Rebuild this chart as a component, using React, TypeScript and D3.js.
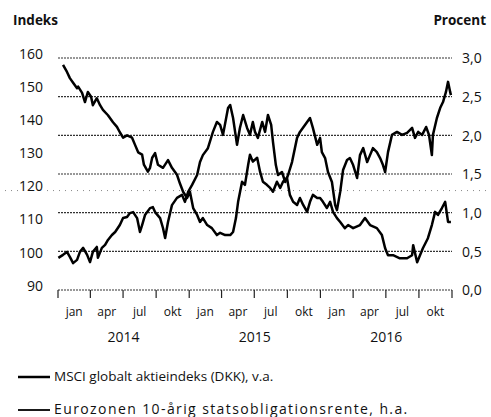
import * as d3 from 'd3'

// MSCI globalt aktieindeks (DKK), venstre akse
const msci: [string, number][] = [
  ['2014-01-02', 99.7], ['2014-01-15', 100.6], ['2014-01-26', 101.5], ['2014-02-03', 100.0],
  ['2014-02-12', 98.1], ['2014-02-23', 99.1], ['2014-03-03', 101.5], ['2014-03-12', 102.7],
  ['2014-03-23', 100.6], ['2014-03-31', 98.4], ['2014-04-08', 101.5], ['2014-04-19', 103.0],
  ['2014-04-22', 99.7], ['2014-05-03', 102.7], ['2014-05-12', 103.6], ['2014-05-20', 105.1],
  ['2014-05-31', 106.6], ['2014-06-09', 107.5], ['2014-06-22', 109.6], ['2014-07-01', 111.7],
  ['2014-07-12', 112.0], ['2014-07-20', 113.2], ['2014-07-29', 113.5], ['2014-08-09', 111.7],
  ['2014-08-17', 107.5], ['2014-08-23', 109.6], ['2014-08-31', 112.6], ['2014-09-14', 114.7],
  ['2014-09-22', 115.0], ['2014-09-28', 113.5], ['2014-10-12', 111.7], ['2014-10-20', 108.7],
  ['2014-10-26', 105.7], ['2014-11-03', 110.5], ['2014-11-14', 115.6], ['2014-11-28', 117.8],
  ['2014-12-12', 118.7], ['2014-12-20', 116.6], ['2014-12-29', 119.6], ['2015-01-09', 121.7],
  ['2015-01-23', 124.7], ['2015-01-31', 128.6], ['2015-02-08', 130.7], ['2015-02-22', 132.8],
  ['2015-03-08', 137.7], ['2015-03-19', 140.7], ['2015-03-28', 139.8], ['2015-04-05', 136.8],
  ['2015-04-19', 144.9], ['2015-04-25', 145.8], ['2015-05-03', 141.9], ['2015-05-14', 133.8],
  ['2015-05-22', 138.9], ['2015-05-31', 142.8], ['2015-06-11', 138.9], ['2015-06-19', 136.8],
  ['2015-06-27', 140.7], ['2015-07-03', 137.7], ['2015-07-11', 135.9], ['2015-07-23', 140.7],
  ['2015-07-31', 137.7], ['2015-08-08', 142.8], ['2015-08-17', 139.8], ['2015-08-22', 134.7],
  ['2015-08-30', 127.7], ['2015-09-05', 124.7], ['2015-09-16', 125.6], ['2015-09-25', 122.6],
  ['2015-10-03', 124.7], ['2015-10-14', 128.6], ['2015-10-28', 135.9], ['2015-11-05', 137.7],
  ['2015-11-19', 139.8], ['2015-12-03', 141.9], ['2015-12-11', 138.9], ['2015-12-23', 133.8],
  ['2015-12-31', 135.9], ['2016-01-05', 131.6], ['2016-01-14', 129.8], ['2016-01-22', 125.6],
  ['2016-02-02', 122.6], ['2016-02-11', 115.6], ['2016-02-16', 114.1], ['2016-02-25', 119.6],
  ['2016-03-04', 126.2], ['2016-03-15', 129.2], ['2016-03-23', 129.8], ['2016-04-01', 127.7],
  ['2016-04-12', 123.8], ['2016-04-20', 130.7], ['2016-04-29', 132.8], ['2016-05-10', 128.6],
  ['2016-05-18', 130.7], ['2016-05-26', 132.8], ['2016-06-06', 131.6], ['2016-06-15', 129.8],
  ['2016-06-23', 127.7], ['2016-06-29', 125.6], ['2016-07-07', 131.6], ['2016-07-18', 136.8],
  ['2016-08-01', 137.7], ['2016-08-15', 136.8], ['2016-08-29', 137.4], ['2016-09-12', 138.9],
  ['2016-09-20', 135.9], ['2016-09-29', 137.7], ['2016-10-10', 136.8], ['2016-10-21', 139.2],
  ['2016-10-29', 136.8], ['2016-11-06', 130.7], ['2016-11-09', 136.8], ['2016-11-20', 141.9],
  ['2016-11-29', 144.9], ['2016-12-07', 146.7], ['2016-12-15', 149.7], ['2016-12-21', 152.8],
  ['2016-12-27', 149.7], ['2016-12-29', 148.8],
]

// Eurozonen 10-årig statsobligationsrente, højre akse (pct.)
const bondYield: [string, number][] = [
  ['2014-01-15', 2.91], ['2014-01-26', 2.82], ['2014-02-03', 2.74], ['2014-02-12', 2.68],
  ['2014-02-23', 2.61], ['2014-02-26', 2.63], ['2014-03-09', 2.55], ['2014-03-17', 2.43],
  ['2014-03-25', 2.56], ['2014-04-03', 2.50], ['2014-04-08', 2.39], ['2014-04-19', 2.48],
  ['2014-04-28', 2.39], ['2014-05-06', 2.33], ['2014-05-20', 2.26], ['2014-06-03', 2.17],
  ['2014-06-14', 2.11], ['2014-06-22', 2.04], ['2014-07-01', 1.97], ['2014-07-12', 2.00],
  ['2014-07-26', 1.97], ['2014-08-03', 1.88], ['2014-08-12', 1.78], ['2014-08-23', 1.75],
  ['2014-08-28', 1.62], ['2014-09-08', 1.53], ['2014-09-14', 1.58], ['2014-09-20', 1.71],
  ['2014-09-28', 1.77], ['2014-10-06', 1.62], ['2014-10-20', 1.58], ['2014-11-03', 1.68],
  ['2014-11-14', 1.58], ['2014-11-28', 1.49], ['2014-12-06', 1.38], ['2014-12-15', 1.27],
  ['2014-12-26', 1.19], ['2015-01-03', 1.27], ['2015-01-12', 1.06], ['2015-01-23', 0.97],
  ['2015-01-31', 0.88], ['2015-02-08', 0.93], ['2015-02-20', 0.84], ['2015-03-05', 0.80],
  ['2015-03-19', 0.71], ['2015-03-28', 0.74], ['2015-04-11', 0.71], ['2015-04-25', 0.71],
  ['2015-05-03', 0.75], ['2015-05-11', 0.93], ['2015-05-17', 1.14], ['2015-05-28', 1.40],
  ['2015-06-05', 1.36], ['2015-06-14', 1.62], ['2015-06-19', 1.75], ['2015-06-27', 1.66],
  ['2015-07-09', 1.71], ['2015-07-17', 1.53], ['2015-07-25', 1.40], ['2015-08-05', 1.36],
  ['2015-08-14', 1.32], ['2015-08-22', 1.27], ['2015-09-02', 1.40], ['2015-09-11', 1.32],
  ['2015-09-19', 1.40], ['2015-09-30', 1.45], ['2015-10-08', 1.23], ['2015-10-17', 1.14],
  ['2015-10-28', 1.10], ['2015-11-05', 1.19], ['2015-11-14', 1.10], ['2015-11-25', 1.01],
  ['2015-12-03', 1.14], ['2015-12-11', 1.23], ['2015-12-23', 1.19], ['2015-12-31', 1.19],
  ['2016-01-08', 1.14], ['2016-01-19', 1.06], ['2016-01-28', 1.14], ['2016-02-05', 1.01],
  ['2016-02-16', 0.93], ['2016-02-25', 0.88], ['2016-03-09', 0.80], ['2016-03-18', 0.84],
  ['2016-04-01', 0.80], ['2016-04-20', 0.84], ['2016-05-04', 0.93], ['2016-05-18', 0.84],
  ['2016-06-06', 0.80], ['2016-06-20', 0.71], ['2016-06-29', 0.54], ['2016-07-07', 0.45],
  ['2016-07-21', 0.45], ['2016-08-09', 0.41], ['2016-08-29', 0.41], ['2016-09-12', 0.45],
  ['2016-09-15', 0.58], ['2016-09-26', 0.36], ['2016-10-04', 0.45], ['2016-10-12', 0.54],
  ['2016-10-26', 0.67], ['2016-11-06', 0.84], ['2016-11-15', 1.01], ['2016-11-23', 0.97],
  ['2016-12-04', 1.06], ['2016-12-13', 1.14], ['2016-12-21', 0.88], ['2016-12-29', 0.88],
]

const leftTicks = [90, 100, 110, 120, 130, 140, 150, 160]
const rightTicks = [0, 0.5, 1, 1.5, 2, 2.5, 3]
const monthNames = ['jan', 'apr', 'jul', 'okt']
const years = [2014, 2015, 2016]
const legendItems = [
  'MSCI globalt aktieindeks (DKK), v.a.',
  'Eurozonen 10-årig statsobligationsrente, h.a.',
]

const W = 491
const H = 417
const FONT = "'Open Sans', 'DejaVu Sans', sans-serif"

export default function App() {
  const plot = { left: 58, right: 452, top: 58, bottom: 290 }

  const x = d3.scaleTime()
    .domain([new Date(2014, 0, 1), new Date(2017, 0, 1)])
    .range([plot.left, plot.right])
  const yL = d3.scaleLinear().domain([90, 160]).range([plot.bottom, plot.top])
  const yR = d3.scaleLinear().domain([0, 3]).range([plot.bottom, plot.top])

  const parse = d3.timeParse('%Y-%m-%d')
  const msciLine = d3.line<[string, number]>()
    .x(d => x(parse(d[0])!))
    .y(d => yL(d[1]))
  const yieldLine = d3.line<[string, number]>()
    .x(d => x(parse(d[0])!))
    .y(d => yR(d[1]))

  const quarters = d3.timeMonth.every(3)!.range(new Date(2014, 0, 1), new Date(2017, 0, 2))
  const fmtR = (v: number) => d3.format('.1f')(v).replace('.', ',')

  return (
    <svg
      width={W}
      height={H}
      style={{ position: 'absolute', left: 0, top: 0, background: '#fff' }}
      fontFamily={FONT}
    >
      {/* axis titles */}
      <text x={13} y={21} fontSize={13.5} fontWeight="bold" dominantBaseline="middle" fill="#111">Indeks</text>
      <text x={486} y={21} fontSize={13.5} fontWeight="bold" textAnchor="end" dominantBaseline="middle" fill="#111">Procent</text>

      {/* faint dotted line at 120 (left axis) */}
      <line x1={5} x2={490} y1={yL(120)} y2={yL(120)} stroke="#888" strokeWidth={1} strokeDasharray="1,5" />

      {/* gridlines at right axis ticks */}
      {rightTicks.map(t => (
        <line key={t} x1={plot.left} x2={plot.right} y1={yR(t)} y2={yR(t)}
          stroke="#333" strokeWidth={1.1} strokeDasharray="2,1" />
      ))}

      {/* x ticks */}
      {quarters.map((q, i) => (
        <line key={i} x1={x(q)} x2={x(q)} y1={plot.bottom} y2={plot.bottom + 8} stroke="#222" strokeWidth={1.2} />
      ))}
      {quarters.slice(0, -1).map((q, i) => {
        const next = quarters[i + 1]
        return (
          <text key={i} x={(x(q) + x(next)) / 2} y={313} fontSize={12} textAnchor="middle"
            dominantBaseline="middle" fill="#111">{monthNames[i % 4]}</text>
        )
      })}
      {years.map(yr => (
        <text key={yr} x={(x(new Date(yr, 0, 1)) + x(new Date(yr + 1, 0, 1))) / 2} y={338}
          fontSize={14} textAnchor="middle" dominantBaseline="middle" fill="#111">{yr}</text>
      ))}

      {/* left axis labels */}
      {leftTicks.map(t => (
        <text key={t} x={43} y={yL(t) - 3} fontSize={14} textAnchor="end" dominantBaseline="middle"
          fill="#111" stroke="#fff" strokeWidth={3} paintOrder="stroke">{t}</text>
      ))}
      {/* right axis labels */}
      {rightTicks.map(t => (
        <text key={t} x={462} y={yR(t) + 1.5} fontSize={14} dominantBaseline="middle"
          fill="#111" stroke="#fff" strokeWidth={3} paintOrder="stroke">{fmtR(t)}</text>
      ))}

      {/* series */}
      <path d={yieldLine(bondYield)!} fill="none" stroke="#000" strokeWidth={2.5} strokeLinejoin="round" />
      <path d={msciLine(msci)!} fill="none" stroke="#000" strokeWidth={2.5} strokeLinejoin="round" />

      {/* legend */}
      {legendItems.map((label, i) => {
        const ly = 377 + i * 33
        return (
          <g key={label}>
            <line x1={18} x2={50} y1={ly} y2={ly} stroke="#000" strokeWidth={i === 0 ? 2.5 : 1.8} />
            <text x={54} y={ly} fontSize={i === 0 ? 13.5 : 14} letterSpacing={i === 0 ? 0 : 1.4}
              dominantBaseline="middle" fill="#111">{label}</text>
          </g>
        )
      })}
    </svg>
  )
}
